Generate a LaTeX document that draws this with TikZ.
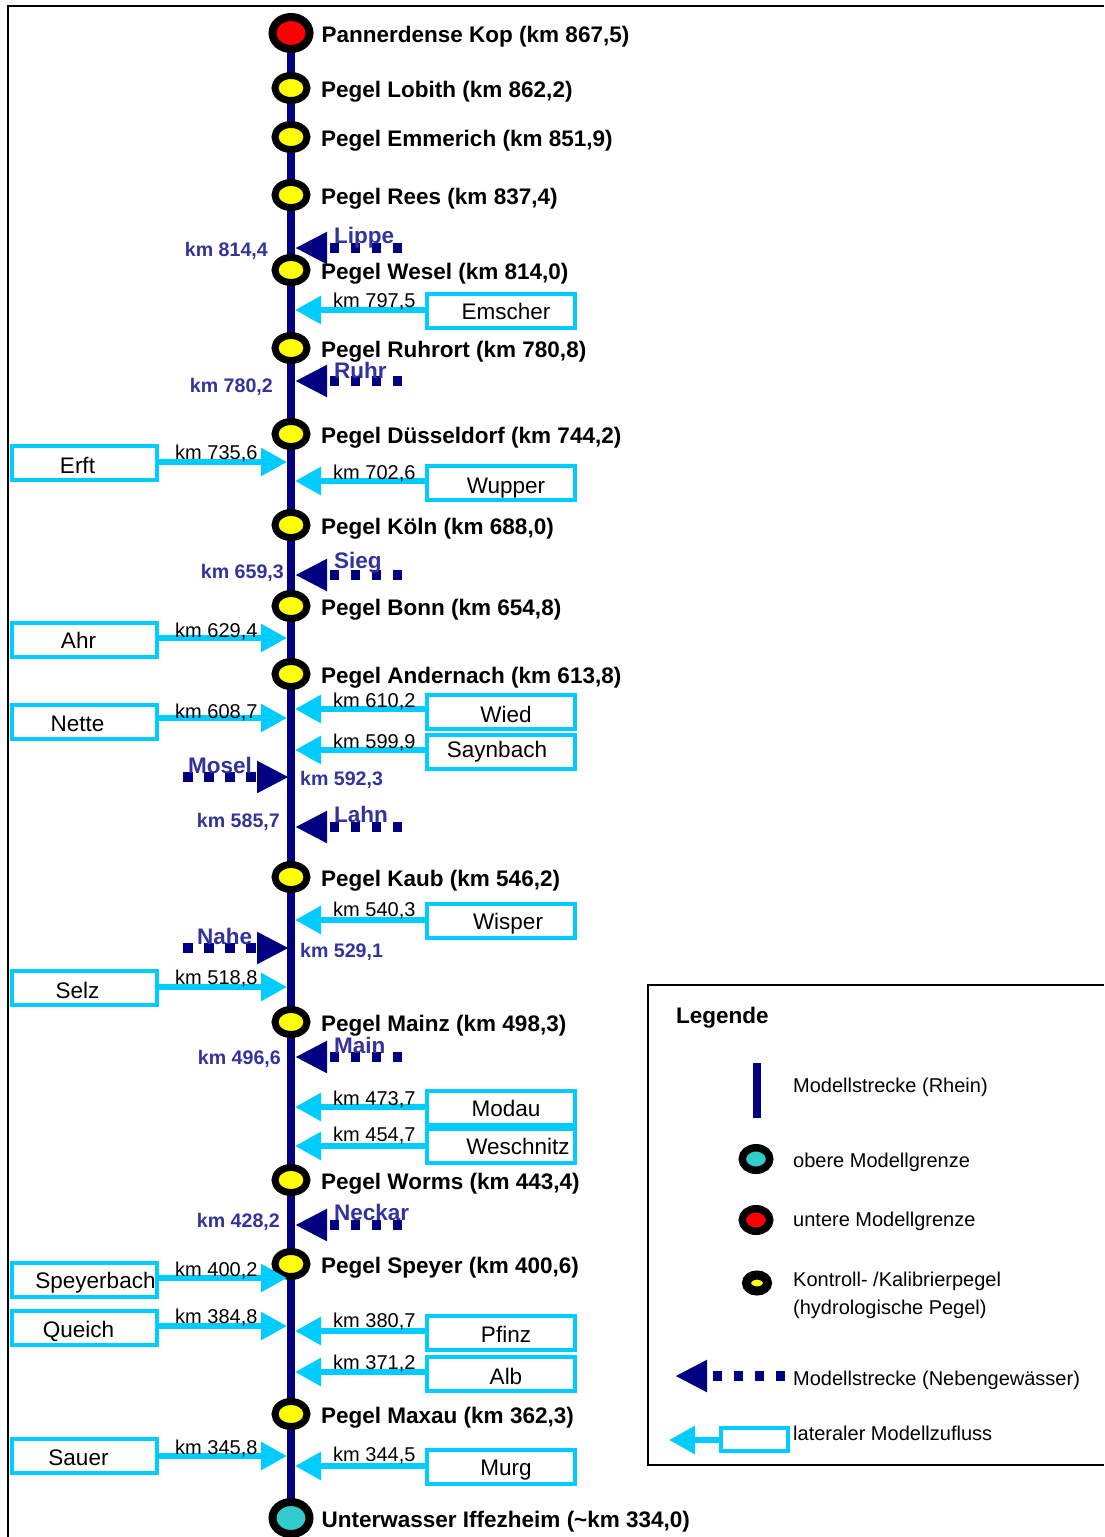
\documentclass[tikz,border=0pt]{standalone}
\usepackage{fontspec}
\setmainfont{Liberation Sans}
\usetikzlibrary{shapes.geometric, arrows.meta, positioning, backgrounds}

\definecolor{rhein}{HTML}{000080}
\definecolor{kmblau}{HTML}{333399}
\definecolor{zufluss}{HTML}{00CCFF}
\definecolor{tuerkis}{HTML}{33CCCC}
\definecolor{gelb}{HTML}{FFFF00}

% Text im Kasten verschieben: dx, dy, Text
\newcommand{\zt}[3]{\hspace*{#1}\raisebox{#2}[\height][\depth]{#3}\hspace*{-#1}}

\tikzset{
  pegel/.style={ellipse, draw=black, line width=7pt, fill=gelb, minimum width=32pt, minimum height=25pt, inner sep=0pt, outer sep=0pt},
  grenze/.style={pegel, line width=8pt, minimum width=37pt, minimum height=32pt},
  plabel/.style={inner sep=0pt, yshift=-4pt, font=\fontsize{22.5}{27}\selectfont\bfseries},
  kmlabel/.style={anchor=west, inner sep=0pt, font=\fontsize{20}{24}\selectfont},
  kmneben/.style={inner sep=0pt, text=kmblau, font=\fontsize{19.6}{24}\selectfont\bfseries},
  nebenname/.style={anchor=west, inner sep=0pt, text=kmblau, font=\fontsize{22.5}{27}\selectfont\bfseries},
  zubox/.style={draw=zufluss, line width=4pt, minimum width=148pt, minimum height=34pt, inner sep=0pt, outer sep=0pt, font=\fontsize{22.5}{27}\selectfont},
  zuboxl/.style={zubox, minimum width=145pt},
  zupfeil/.style={draw=zufluss, line width=6pt, -{Triangle[length=26pt, width=27pt]}},
  nebenpfeil/.style={draw=rhein, line width=10pt, dash pattern=on 9.5pt off 11.5pt, -{Triangle[length=32pt, width=30pt]}},
  legtext/.style={anchor=west, inner sep=0pt, font=\fontsize{20}{28}\selectfont},
}

\begin{document}
\begin{tikzpicture}[x=1pt, y=-1pt, node distance=14pt]
  \useasboundingbox (0,0) rectangle (1104,1537);
  \draw[line width=2pt] (1104,6) -- (8,6) -- (8,1537);

  % Pegel am Rhein
  \node[grenze, fill=red] (pk) at (291,33) {};
  \node[plabel, right=12pt of pk] (pk-t) {Pannerdense Kop (km 867,5)};
  \node[pegel] (lobith) at (291,88) {};
  \node[plabel, right=of lobith] (lobith-t) {Pegel Lobith (km 862,2)};
  \node[pegel] (emmerich) at (291,137) {};
  \node[plabel, right=of emmerich] (emmerich-t) {Pegel Emmerich (km 851,9)};
  \node[pegel] (rees) at (291,195) {};
  \node[plabel, right=of rees] (rees-t) {Pegel Rees (km 837,4)};
  \node[pegel] (wesel) at (291,270) {};
  \node[plabel, right=of wesel] (wesel-t) {Pegel Wesel (km 814,0)};
  \node[pegel] (ruhrort) at (291,348) {};
  \node[plabel, right=of ruhrort] (ruhrort-t) {Pegel Ruhrort (km 780,8)};
  \node[pegel] (duesseldorf) at (291,434) {};
  \node[plabel, right=of duesseldorf] (duesseldorf-t) {Pegel Düsseldorf (km 744,2)};
  \node[pegel] (koeln) at (291,525) {};
  \node[plabel, right=of koeln] (koeln-t) {Pegel Köln (km 688,0)};
  \node[pegel] (bonn) at (291,606) {};
  \node[plabel, right=of bonn] (bonn-t) {Pegel Bonn (km 654,8)};
  \node[pegel] (andernach) at (291,674) {};
  \node[plabel, right=of andernach] (andernach-t) {Pegel Andernach (km 613,8)};
  \node[pegel] (kaub) at (291,877) {};
  \node[plabel, right=of kaub] (kaub-t) {Pegel Kaub (km 546,2)};
  \node[pegel] (mainz) at (291,1022) {};
  \node[plabel, right=of mainz] (mainz-t) {Pegel Mainz (km 498,3)};
  \node[pegel] (worms) at (291,1180) {};
  \node[plabel, right=of worms] (worms-t) {Pegel Worms (km 443,4)};
  \node[pegel] (speyer) at (291,1264) {};
  \node[plabel, right=of speyer] (speyer-t) {Pegel Speyer (km 400,6)};
  \node[pegel] (maxau) at (291,1414) {};
  \node[plabel, right=of maxau] (maxau-t) {Pegel Maxau (km 362,3)};
  \node[grenze, fill=tuerkis] (iff) at (291,1518) {};
  \node[plabel, right=12pt of iff] (iff-t) {Unterwasser Iffezheim (\textasciitilde km 334,0)};

  % Rhein
  \begin{scope}[on background layer]
    \draw[rhein, line width=8pt] (pk) -- (iff);
  \end{scope}

  % Nebengewaesser
  \coordinate (m-lippe) at (295,248);  \coordinate (q-lippe) at (402,248);
  \draw[nebenpfeil] (q-lippe) -- (m-lippe);
  \node[nebenname] (lippe) at (334,238) {Lippe};
  \node[kmneben, anchor=east] (km-lippe) at (268,251) {km 814,4};

  \coordinate (m-ruhr) at (295,381);  \coordinate (q-ruhr) at (402,381);
  \draw[nebenpfeil] (q-ruhr) -- (m-ruhr);
  \node[nebenname] (ruhr) at (334,370) {Ruhr};
  \node[kmneben, anchor=east] (km-ruhr) at (273,387) {km 780,2};

  \coordinate (m-sieg) at (295,575);  \coordinate (q-sieg) at (402,575);
  \draw[nebenpfeil] (q-sieg) -- (m-sieg);
  \node[nebenname] (sieg) at (334,563) {Sieg};
  \node[kmneben, anchor=east] (km-sieg) at (284,573) {km 659,3};

  \coordinate (m-mosel) at (289,777);  \coordinate (q-mosel) at (183,777);
  \draw[nebenpfeil] (q-mosel) -- (m-mosel);
  \node[nebenname] (mosel) at (188,765) {Mosel};
  \node[kmneben, anchor=west] (km-mosel) at (300,780) {km 592,3};

  \coordinate (m-lahn) at (295,827);  \coordinate (q-lahn) at (402,827);
  \draw[nebenpfeil] (q-lahn) -- (m-lahn);
  \node[nebenname] (lahn) at (334,814) {Lahn};
  \node[kmneben, anchor=east] (km-lahn) at (280,822) {km 585,7};

  \coordinate (m-nahe) at (289,948);  \coordinate (q-nahe) at (183,948);
  \draw[nebenpfeil] (q-nahe) -- (m-nahe);
  \node[nebenname] (nahe) at (197,936) {Nahe};
  \node[kmneben, anchor=west] (km-nahe) at (300,952) {km 529,1};

  \coordinate (m-main) at (295,1057);  \coordinate (q-main) at (402,1057);
  \draw[nebenpfeil] (q-main) -- (m-main);
  \node[nebenname] (main) at (334,1045) {Main};
  \node[kmneben, anchor=east] (km-main) at (281,1059) {km 496,6};

  \coordinate (m-neckar) at (295,1225);  \coordinate (q-neckar) at (402,1225);
  \draw[nebenpfeil] (q-neckar) -- (m-neckar);
  \node[nebenname] (neckar) at (334,1212) {Neckar};
  \node[kmneben, anchor=east] (km-neckar) at (280,1222) {km 428,2};

  % laterale Zufluesse rechts
  \node[zubox] (emscher) at (501,311) {\zt{5pt}{0pt}{Emscher}};
  \coordinate (m-emscher) at (295,310);
  \draw[zupfeil] (emscher.west |- m-emscher) -- (m-emscher);
  \node[kmlabel] (km-emscher) at (333,302) {km 797,5};

  \node[zubox] (wupper) at (501,483) {\zt{5pt}{-5pt}{Wupper}};
  \coordinate (m-wupper) at (295,481);
  \draw[zupfeil] (wupper.west |- m-wupper) -- (m-wupper);
  \node[kmlabel] (km-wupper) at (333,474) {km 702,6};

  \node[zubox] (wied) at (501,712) {\zt{5pt}{-2pt}{Wied}};
  \coordinate (m-wied) at (295,709);
  \draw[zupfeil] (wied.west |- m-wied) -- (m-wied);
  \node[kmlabel] (km-wied) at (333,702) {km 610,2};

  \node[zubox] (saynbach) at (501,752) {\zt{-4pt}{0pt}{Saynbach}};
  \coordinate (m-saynbach) at (295,750);
  \draw[zupfeil] (saynbach.west |- m-saynbach) -- (m-saynbach);
  \node[kmlabel] (km-saynbach) at (333,743) {km 599,9};

  \node[zubox] (wisper) at (501,921) {\zt{7pt}{-3pt}{Wisper}};
  \coordinate (m-wisper) at (295,920);
  \draw[zupfeil] (wisper.west |- m-wisper) -- (m-wisper);
  \node[kmlabel] (km-wisper) at (333,911) {km 540,3};

  \node[zubox] (modau) at (501,1108) {\zt{5pt}{0pt}{Modau}};
  \coordinate (m-modau) at (295,1107);
  \draw[zupfeil] (modau.west |- m-modau) -- (m-modau);
  \node[kmlabel] (km-modau) at (333,1100) {km 473,7};

  \node[zubox] (weschnitz) at (501,1146) {\zt{17pt}{0pt}{Weschnitz}};
  \coordinate (m-weschnitz) at (295,1146);
  \draw[zupfeil] (weschnitz.west |- m-weschnitz) -- (m-weschnitz);
  \node[kmlabel] (km-weschnitz) at (333,1136) {km 454,7};

  \node[zubox] (pfinz) at (501,1333) {\zt{5pt}{-1pt}{Pfinz}};
  \coordinate (m-pfinz) at (295,1331);
  \draw[zupfeil] (pfinz.west |- m-pfinz) -- (m-pfinz);
  \node[kmlabel] (km-pfinz) at (333,1322) {km 380,7};

  \node[zubox] (alb) at (501,1374) {\zt{5pt}{-2pt}{Alb}};
  \coordinate (m-alb) at (295,1372);
  \draw[zupfeil] (alb.west |- m-alb) -- (m-alb);
  \node[kmlabel] (km-alb) at (333,1364) {km 371,2};

  \node[zubox] (murg) at (501,1467) {\zt{5pt}{-3pt}{Murg}};
  \coordinate (m-murg) at (295,1466);
  \draw[zupfeil] (murg.west |- m-murg) -- (m-murg);
  \node[kmlabel] (km-murg) at (333,1456) {km 344,5};

  % laterale Zufluesse links
  \node[zuboxl] (erft) at (84.5,463) {\zt{-7pt}{-2pt}{Erft}};
  \coordinate (m-erft) at (287,462);
  \draw[zupfeil] (erft.east |- m-erft) -- (m-erft);
  \node[kmlabel] (km-erft) at (175,454) {km 735,6};

  \node[zuboxl] (ahr) at (84.5,640) {\zt{-6pt}{0pt}{Ahr}};
  \coordinate (m-ahr) at (287,638);
  \draw[zupfeil] (ahr.east |- m-ahr) -- (m-ahr);
  \node[kmlabel] (km-ahr) at (175,632) {km 629,4};

  \node[zuboxl] (nette) at (84.5,722) {\zt{-7pt}{-2pt}{Nette}};
  \coordinate (m-nette) at (287,718);
  \draw[zupfeil] (nette.east |- m-nette) -- (m-nette);
  \node[kmlabel] (km-nette) at (175,713) {km 608,7};

  \node[zuboxl] (selz) at (84.5,988) {\zt{-7pt}{-2pt}{Selz}};
  \coordinate (m-selz) at (287,987);
  \draw[zupfeil] (selz.east |- m-selz) -- (m-selz);
  \node[kmlabel] (km-selz) at (175,979) {km 518,8};

  \node[zuboxl] (speyerbach) at (84.5,1280) {\zt{11pt}{-3pt}{Speyerbach}};
  \coordinate (m-speyerbach) at (287,1278);
  \draw[zupfeil] (speyerbach.east |- m-speyerbach) -- (m-speyerbach);
  \node[kmlabel] (km-speyerbach) at (175,1271) {km 400,2};

  \node[zuboxl] (queich) at (84.5,1328) {\zt{-6pt}{-3pt}{Queich}};
  \coordinate (m-queich) at (287,1326);
  \draw[zupfeil] (queich.east |- m-queich) -- (m-queich);
  \node[kmlabel] (km-queich) at (175,1318) {km 384,8};

  \node[zuboxl] (sauer) at (84.5,1456) {\zt{-6pt}{-2pt}{Sauer}};
  \coordinate (m-sauer) at (287,1456);
  \draw[zupfeil] (sauer.east |- m-sauer) -- (m-sauer);
  \node[kmlabel] (km-sauer) at (175,1449) {km 345,8};

  % Legende
  \draw[line width=2pt] (1104,985) -- (648,985) -- (648,1465) -- (1104,1465);
  \node[plabel, anchor=west] (legende) at (676,1014) {Legende};
  \coordinate (leg-a) at (757,1063); \coordinate (leg-b) at (757,1118);
  \draw[rhein, line width=8pt] (leg-a) -- (leg-b);
  \node[legtext] (leg-rhein) at (793,1087) {Modellstrecke (Rhein)};
  \node[pegel, fill=tuerkis, line width=7.5pt, minimum width=27.5pt, minimum height=22.5pt] (leg-oben) at (756,1159) {};
  \node[legtext] (leg-oben-t) at (793,1162) {obere Modellgrenze};
  \node[pegel, fill=red, line width=7.5pt, minimum width=27.5pt, minimum height=22.5pt] (leg-unten) at (756,1220) {};
  \node[legtext] (leg-unten-t) at (793,1221) {untere Modellgrenze};
  \node[pegel, line width=9pt, minimum width=21pt, minimum height=16pt] (leg-pegel) at (757,1283) {};
  \node[legtext, align=left] (leg-pegel-t) at (793,1295) {Kontroll- /Kalibrierpegel\\(hydrologische Pegel)};
  \coordinate (leg-nq) at (785,1376); \coordinate (leg-nm) at (675,1376);
  \draw[nebenpfeil] (leg-nq) -- (leg-nm);
  \node[legtext] (leg-neben) at (793,1380) {Modellstrecke (Nebengewässer)};
  \node[draw=zufluss, line width=4pt, minimum width=67pt, minimum height=23pt, inner sep=0pt, outer sep=0pt] (leg-box) at (754.5,1439.5) {};
  \coordinate (leg-zm) at (669,1440);
  \draw[zupfeil] (leg-box.west |- leg-zm) -- (leg-zm);
  \node[legtext] (leg-zu) at (793,1433) {lateraler Modellzufluss};
\end{tikzpicture}
\end{document}
